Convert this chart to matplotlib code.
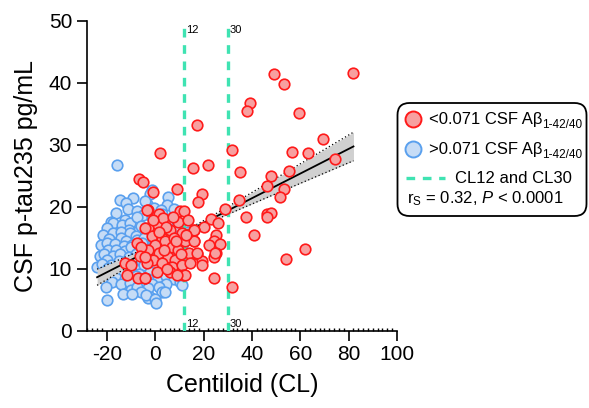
import matplotlib
matplotlib.use("Agg")
import matplotlib.pyplot as plt
import numpy as np
from matplotlib.patches import FancyBboxPatch
from matplotlib.lines import Line2D

plt.rcParams['font.family'] = ['Liberation Sans', 'DejaVu Sans']
plt.rcParams['mathtext.fontset'] = 'custom'
plt.rcParams['mathtext.rm'] = 'Liberation Sans'
plt.rcParams['mathtext.it'] = 'Liberation Sans:italic'
plt.rcParams['axes.unicode_minus'] = False

# Centiloid / p-tau235 pairs, Abeta-negative group (>0.071)
neg_cl = [-15.6, -1.4, -2.3, -14.5, 5.5, -9.0, -3.4, 4.8, -12.0, -4.1, -11.2, -16.0, -7.5, -0.5, 2.5, 8.0,
          -18.1, -12.5, -8.4, -15.3, -5.0, -1.5, 3.0, -17.5, -13.5, -10.5, -7.6, 13.1, 6.5, 0.5, -20.0, -11.0,
          -6.0, -2.5, 4.0, 9.0, -21.5, -17.4, -14.0, -10.5, -8.0, -3.5, 1.0, 5.5, 10.0, -19.0, -14.0, -12.0,
          -7.5, -4.5, 3.0, 7.5, -22.5, -20.0, -16.5, -13.0, -9.5, -5.5, -1.0, 2.0, 6.0, 11.0, -19.5, -16.0,
          -12.5, -9.8, -6.5, -2.5, 1.5, 5.0, 9.0, -23.0, -21.0, -17.5, -14.5, -11.0, -8.0, -4.0, 0.0, 3.5,
          8.0, -20.1, -18.1, -15.0, -12.0, -9.0, -5.5, -1.5, 2.5, 7.0, -24.1, -22.0, -19.3, -14.6, -11.5,
          -8.5, -4.5, -0.5, 4.0, 9.5, -21.0, -17.0, -13.0, -10.0, -6.5, -2.0, 2.0, 6.5, -18.5, -16.0, -12.5,
          -8.0, -3.0, 1.0, 4.5, 8.0, -18.0, -14.0, -10.5, -6.0, -1.4, 4.6, 10.4, 10.9, -20.5, -9.8, -7.7,
          1.4, -3.0, -13.1, -5.7, -9.6, 2.8, 4.0, -2.1, -2.9, -3.6, -19.8, 0.0, 0.4]
neg_ptau = [26.7, 22.7, 22.1, 21.1, 21.6, 21.4, 20.5, 20.3, 20.6, 20.9, 19.7, 19.0, 19.3, 19.8, 19.4, 19.6,
            17.6, 17.9, 17.6, 16.8, 18.6, 18.3, 18.8, 17.3, 17.0, 17.4, 18.4, 17.6, 17.8, 17.2, 16.6, 16.3,
            16.9, 16.5, 16.6, 16.9, 15.5, 15.7, 15.9, 15.7, 15.2, 15.8, 15.4, 15.9, 15.3, 14.8, 14.9, 14.4,
            14.6, 14.9, 14.7, 14.5, 13.8, 14.2, 14.0, 13.6, 13.9, 14.2, 13.7, 14.1, 13.6, 13.9, 13.0, 13.0,
            12.8, 13.5, 12.9, 13.2, 12.7, 13.1, 12.8, 12.1, 12.4, 12.0, 12.3, 11.9, 12.4, 12.0, 12.2, 11.9,
            12.3, 11.4, 10.6, 11.3, 11.0, 11.5, 11.2, 11.6, 11.1, 11.4, 10.3, 10.8, 10.1, 10.1, 10.4,
            10.0, 10.6, 10.2, 10.5, 10.3, 9.4, 9.7, 9.3, 9.6, 9.2, 9.5, 9.3, 9.6, 8.7, 8.5, 8.3,
            8.8, 8.4, 8.6, 8.9, 8.4, 7.8, 7.5, 7.7, 7.9, 7.6, 7.6, 7.9, 7.3, 7.0, 6.6, 7.1,
            7.1, 6.9, 6.0, 6.3, 6.0, 6.3, 6.2, 5.5, 5.2, 5.8, 5.0, 5.1, 4.4]

# Abeta-positive group (<0.071)
pos_cl = [49.0, 53.3, 82.0, 39.2, 38.1, 59.3, 17.3, 69.3, 31.8, 2.1, 56.7, 63.2, 74.2, 15.6, 21.8, 34.9,
          55.5, 47.7, -6.5, -5.0, 46.1, 53.3, 9.0, -0.7, 19.5, 17.8, 51.6, 34.5, 29.0, 46.1, 48.0, 46.1,
          37.4, 23.1, 25.8, 20.0, 16.1, 40.9, 25.3, 24.2, 26.9, 22.4, 16.1, 25.3, 24.4, 17.5, 19.3, 19.3,
          62.1, 54.2, 24.2, 31.8, -2.8, 1.4, 0.7, 3.4, 10.4, 12.1, 9.6, -2.8, 6.2, 15.9, 11.0, -1.4,
          2.8, 4.1, 0.0, 6.9, 9.6, 12.4, 15.9, 13.8, 17.3, -2.8, 1.4, 5.5, -0.7, 8.3, -3.4, 2.8,
          6.9, 11.0, 0.7, 6.2, 11.7, -4.1, -3.2, -4.0, -7.3, -5.7, -6.3, -4.0, -12.3, -9.8, -11.6, -7.0,
          -4.0, 12.4, 9.0, 24.8, 4.5, 8.0, 13.5, 14.5, 3.5, 7.5, -1.0, 10.5, 12.8, 5.0, 1.8, 8.5]
pos_ptau = [41.4, 39.8, 41.5, 36.7, 35.5, 35.1, 33.2, 30.9, 29.1, 28.6, 28.8, 28.7, 27.7, 26.3, 26.8, 25.6,
            25.7, 25.0, 24.5, 24.0, 23.3, 22.9, 22.8, 22.4, 22.0, 20.7, 21.5, 21.1, 19.7, 18.8, 19.0, 18.3,
            18.4, 18.0, 17.4, 16.7, 16.2, 15.5, 15.5, 14.4, 14.0, 13.8, 14.4, 12.6, 11.9, 12.3, 11.3, 10.6,
            13.1, 11.6, 8.5, 7.1, 19.5, 18.9, 17.2, 18.1, 19.3, 19.3, 17.6, 16.5, 16.2, 16.2, 15.7, 15.3,
            14.9, 14.4, 13.8, 13.5, 13.0, 14.4, 14.4, 12.5, 12.5, 13.0, 12.5, 11.9, 11.4, 11.4, 10.9, 10.9,
            10.3, 10.6, 9.5, 9.4, 9.0, 8.5, 19.5, 16.5, 14.2, 13.5, 12.0, 11.9, 11.0, 10.6, 9.0, 8.5,
            8.5, 9.0, 9.0, 12.5, 16.8, 15.0, 17.8, 11.0, 13.0, 18.3, 17.8, 12.3, 15.5, 9.9, 16.0, 14.5]

# Spearman / linear fit summary
fit_slope = 0.199
fit_intercept = 13.4
fit_xmin, fit_xmax = -24.0, 82.0
ci_center = 13.8
ci_base = 0.3
ci_spread = 0.0335

cl_cutoffs = [12, 30]
x_ticks = [-20, 0, 20, 40, 60, 80, 100]
y_ticks = [0, 10, 20, 30, 40, 50]

W, H = 589, 408
fig = plt.figure(figsize=(W / 100, H / 100), dpi=100)
ax = fig.add_axes([86.7 / W, 1 - 330.7 / H, (397 - 86.7) / W, (330.7 - 20.7) / H])

red_face, red_edge = '#f7a0a0', '#ff1a1a'
blue_face, blue_edge = '#c6dcf6', '#5aa0ee'
green = '#3fe3b2'

ax.scatter(neg_cl, neg_ptau, s=58, facecolor=blue_face, edgecolor=blue_edge, linewidth=1.2, zorder=2)

xs = np.linspace(fit_xmin, fit_xmax, 200)
ys = fit_intercept + fit_slope * xs
hw = np.sqrt(ci_base ** 2 + (ci_spread * (xs - ci_center)) ** 2)
ax.fill_between(xs, ys - hw, ys + hw, color='#d0d0d0', linewidth=0, zorder=3)
ax.plot(xs, ys + hw, color='black', linestyle=(0, (1, 2)), linewidth=0.9, zorder=3)
ax.plot(xs, ys - hw, color='black', linestyle=(0, (1, 2)), linewidth=0.9, zorder=3)
ax.plot(xs, ys, color='black', linewidth=1.3, zorder=3)

for c in cl_cutoffs:
    ax.plot([c, c], [0, 50], color=green, linewidth=2.4, linestyle=(0, (2.6, 2.3)), zorder=3.5)
    ax.text(c + 0.8, 48.5, str(c), fontsize=8, va='center', ha='left', zorder=5)
    ax.text(c + 0.8, 1.1, str(c), fontsize=8, va='center', ha='left', zorder=5)

ax.scatter(pos_cl, pos_ptau, s=58, facecolor=red_face, edgecolor=red_edge, linewidth=1.2, zorder=4)

ax.set_xlim(-28.3, 100)
ax.set_ylim(0, 50)
ax.set_xticks(x_ticks)
ax.set_yticks(y_ticks)
ax.set_xticks(np.arange(-28, 101, 2), minor=True)
ax.spines['top'].set_visible(False)
ax.spines['right'].set_visible(False)
for s in ('left', 'bottom'):
    ax.spines[s].set_linewidth(1.2)
ax.tick_params(axis='both', which='major', direction='out', length=7, width=1.2, labelsize=15)
ax.tick_params(axis='x', which='minor', direction='in', length=2.5, width=1.0)
ax.set_xlabel('Centiloid (CL)', fontsize=18, labelpad=6)
ax.set_ylabel('CSF p-tau235 pg/mL', fontsize=18, labelpad=8)

# Legend panel drawn in pixel space
lax = fig.add_axes([0, 0, 1, 1], zorder=10)
lax.set_xlim(0, W)
lax.set_ylim(H, 0)
lax.axis('off')
lax.patch.set_alpha(0)
box = FancyBboxPatch((397.5, 103), 189, 113, boxstyle='round,pad=0,rounding_size=12',
                     facecolor='white', edgecolor='black', linewidth=1.3)
lax.add_patch(box)
lax.add_line(Line2D([413.3], [119.3], marker='o', markersize=11.5, markerfacecolor=red_face,
                    markeredgecolor=red_edge, markeredgewidth=1.4, linestyle='none'))
lax.add_line(Line2D([413.3], [149.3], marker='o', markersize=11.5, markerfacecolor=blue_face,
                    markeredgecolor=blue_edge, markeredgewidth=1.4, linestyle='none'))
lax.add_line(Line2D([406, 445], [178.3, 178.3], color=green, linewidth=2.4, linestyle=(0, (2.6, 2.3))))

for yy, lab in ((119.3, '<0.071 CSF A\u03b2'), (149.3, '>0.071 CSF A\u03b2')):
    t = lax.text(429, yy, lab, fontsize=12, va='center', ha='left')
    lax.annotate('1-42/40', xy=(1, 0.12), xycoords=t, fontsize=8.5, va='center', ha='left')
lax.text(455, 178.3, 'CL12 and CL30', fontsize=12, va='center', ha='left')
lax.text(406.7, 198.5, r'r$_{\mathrm{S}}$ = 0.32, $\mathit{P}$ < 0.0001', fontsize=12, va='center', ha='left')

fig.savefig('out.png', dpi=100)
